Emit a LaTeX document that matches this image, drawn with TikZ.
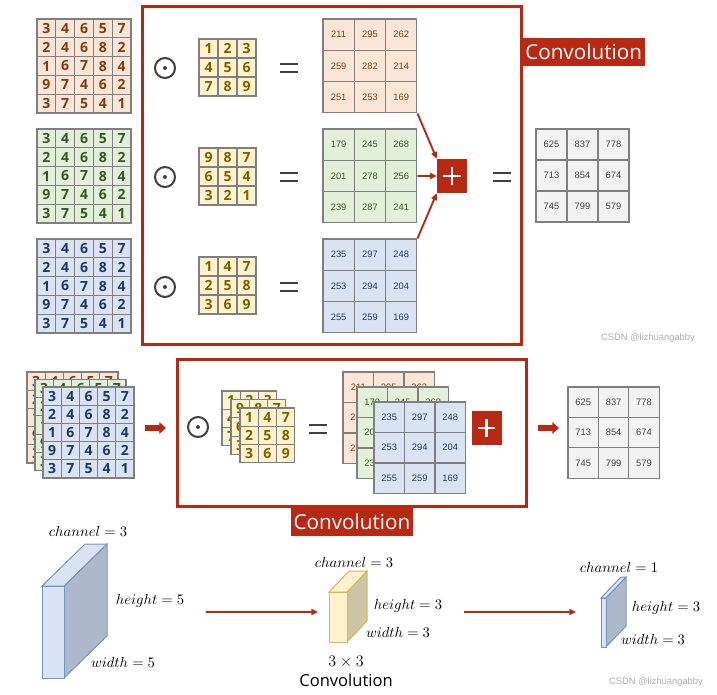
\documentclass[tikz,border=0pt]{standalone}
\usepackage{fontspec}
\newfontfamily\digitfont{Open Sans}
\newfontfamily\numfont{Liberation Sans}
\usepackage{tikz}
\usetikzlibrary{arrows.meta}
\usetikzlibrary{calc}
\usepackage{xcolor}
\definecolor{orfill}{HTML}{FBE5D6}
\definecolor{ortext}{HTML}{843C0C}
\definecolor{grfill}{HTML}{E2F0D9}
\definecolor{grtext}{HTML}{385723}
\definecolor{blfill}{HTML}{DAE3F3}
\definecolor{bltext}{HTML}{203864}
\definecolor{kfill}{HTML}{FFF2CC}
\definecolor{ktext}{HTML}{7F6000}
\definecolor{gyfill}{HTML}{F2F2F2}
\definecolor{gytext}{HTML}{404040}
\definecolor{gridgray}{HTML}{7F7F7F}
\definecolor{symgray}{HTML}{404040}
\definecolor{convred}{RGB}{184,40,18}
\definecolor{blueedge}{HTML}{7096C4}
\definecolor{blueside}{HTML}{ADB9CA}
\definecolor{goldedge}{HTML}{D6B656}
\definecolor{goldside}{HTML}{CFC5A5}
\tikzstyle{cell} = [draw=gridgray, line width=0.8pt, inner sep=0pt]
\tikzstyle{digit} = [cell, font=\digitfont\bfseries\fontsize{10.5}{12}\selectfont]
\tikzstyle{res} = [cell, font=\numfont\fontsize{7}{8}\selectfont]
\tikzstyle{orch} = [fill=orfill, text=ortext]
\tikzstyle{grch} = [fill=grfill, text=grtext]
\tikzstyle{blch} = [fill=blfill, text=bltext]
\tikzstyle{kern} = [fill=kfill, text=ktext]
\tikzstyle{sumch} = [fill=gyfill, text=gytext]
\tikzstyle{odotsym} = [circle, draw=symgray, line width=1.5pt, minimum size=15pt, inner sep=0pt,
	path picture={\fill[symgray] (path picture bounding box.center) circle (1.5pt);}]
\tikzstyle{eqsign} = [minimum width=13.5pt, minimum height=8.1pt, inner sep=0pt,
	path picture={\draw[symgray, line width=1.6pt]
		([yshift=-0.8pt]path picture bounding box.north west) -- ([yshift=-0.8pt]path picture bounding box.north east)
		([yshift=0.8pt]path picture bounding box.south west) -- ([yshift=0.8pt]path picture bounding box.south east);}]
\tikzstyle{plusbox} = [fill=convred, minimum width=22.5pt, minimum height=25.5pt, inner sep=0pt,
	path picture={\draw[white, line width=1.8pt]
		($(path picture bounding box.center)+(-6.4pt,0)$) -- ($(path picture bounding box.center)+(6.4pt,0)$)
		($(path picture bounding box.center)+(0,-6.4pt)$) -- ($(path picture bounding box.center)+(0,6.4pt)$);}]
\tikzstyle{convframe} = [draw=convred, line width=2.2pt]
\tikzstyle{convlabel} = [fill=convred, text=white, inner sep=0pt, minimum width=92pt, minimum height=21pt,
	font=\digitfont\fontsize{15.5}{16}\selectfont]
\tikzstyle{arrow} = [convred, line width=1.4pt, -{Triangle[length=5pt,width=4.5pt]}]
\tikzstyle{fatarrow} = [convred, line width=3.8pt, -{Triangle[length=5pt,width=8.5pt]}]
\tikzstyle{dimlabel} = [inner sep=0pt, font=\fontsize{11}{12}\selectfont]
\tikzstyle{watermark} = [inner sep=0pt, text=black!32, font=\numfont\fontsize{7}{8}\selectfont]

% grid of numbered cells: name, left, top, cell size (px), style, rows
\newcommand{\numgrid}[6]{%
\foreach \rowvals [count=\rw] in {#6}{
	\foreach \val [count=\cl] in \rowvals{
		\node[#5, minimum size=#4*0.75pt] (#1-\rw-\cl) at ({#2+(\cl-0.5)*#4},{#3+(\rw-0.5)*#4}) {\val};
	}
}}

\begin{document}
\begin{tikzpicture}[x=0.75pt,y=-0.75pt]
\useasboundingbox (0,0) rectangle (717,694);

% top: one channel at a time
\numgrid{in1}{37}{19}{18.8}{digit,orch}{{3,4,6,5,7},{2,4,6,8,2},{1,6,7,8,4},{9,7,4,6,2},{3,7,5,4,1}}
\numgrid{in2}{37}{129}{18.8}{digit,grch}{{3,4,6,5,7},{2,4,6,8,2},{1,6,7,8,4},{9,7,4,6,2},{3,7,5,4,1}}
\numgrid{in3}{37}{239}{18.8}{digit,blch}{{3,4,6,5,7},{2,4,6,8,2},{1,6,7,8,4},{9,7,4,6,2},{3,7,5,4,1}}

\draw[convframe] (142.5,6.5) rectangle (521.5,344.5);
\node[convlabel, anchor=west] (conv1) at (522,51.5) {Convolution};

\node[odotsym] (dot1) at (165,68) {};
\node[odotsym] (dot2) at (165,177) {};
\node[odotsym] (dot3) at (165,287) {};

\numgrid{k1}{199}{39}{19}{digit,kern}{{1,2,3},{4,5,6},{7,8,9}}
\numgrid{k2}{199}{148}{19}{digit,kern}{{9,8,7},{6,5,4},{3,2,1}}
\numgrid{k3}{199}{257}{19}{digit,kern}{{1,4,7},{2,5,8},{3,6,9}}

\node[eqsign] (eq1) at (289,68) {};
\node[eqsign] (eq2) at (289,177) {};
\node[eqsign] (eq3) at (289,287) {};

\numgrid{r1}{323}{19}{31.3}{res,orch}{{211,295,262},{259,282,214},{251,253,169}}
\numgrid{r2}{323}{129}{31.3}{res,grch}{{179,245,268},{201,278,256},{239,287,241}}
\numgrid{r3}{323}{239}{31.3}{res,blch}{{235,297,248},{253,294,204},{255,259,169}}

\node[plusbox] (plus1) at (452,176) {};
\draw[arrow] (r1-3-3.south east) -- (plus1.north west);
\draw[arrow] (r2-2-3.east) -- (plus1.west);
\draw[arrow] (r3-1-3.north east) -- (plus1.south west);

\node[eqsign] (eq4) at (502,177) {};
\numgrid{out1}{536}{129}{31}{res,sumch}{{625,837,778},{713,854,674},{745,799,579}}

\node[watermark] (mark1) at (648,338) {CSDN @lizhuangabby};

% middle: all channels at once
\numgrid{mi1}{27}{372}{18.2}{digit,orch}{{3,4,6,5,7},{2,4,6,8,2},{1,6,7,8,4},{9,7,4,6,2},{3,7,5,4,1}}
\numgrid{mi2}{35}{379.5}{18.2}{digit,grch}{{3,4,6,5,7},{2,4,6,8,2},{1,6,7,8,4},{9,7,4,6,2},{3,7,5,4,1}}
\numgrid{mi3}{43}{387}{18.2}{digit,blch}{{3,4,6,5,7},{2,4,6,8,2},{1,6,7,8,4},{9,7,4,6,2},{3,7,5,4,1}}

\coordinate (fa1) at (145,428);
\coordinate (fa2) at (166,428);
\draw[fatarrow] (fa1) -- (fa2);

\draw[convframe] (177.5,359.5) rectangle (526.5,506.5);
\node[convlabel] (conv2) at (352,521.5) {Convolution};

\node[odotsym] (dot4) at (198,427) {};
\numgrid{mk1}{222}{391}{18.3}{digit,kern}{{1,2,3},{4,5,6},{7,8,9}}
\numgrid{mk2}{231}{399.5}{18.3}{digit,kern}{{9,8,7},{6,5,4},{3,2,1}}
\numgrid{mk3}{240}{408}{18.3}{digit,kern}{{1,4,7},{2,5,8},{3,6,9}}

\node[eqsign] (eq5) at (318,429) {};
\numgrid{mr1}{343}{372}{30.5}{res,orch}{{211,295,262},{259,282,214},{251,253,169}}
\numgrid{mr2}{357}{387}{30.5}{res,grch}{{179,245,268},{201,278,256},{239,287,241}}
\numgrid{mr3}{374}{402}{30.5}{res,blch}{{235,297,248},{253,294,204},{255,259,169}}
\node[plusbox] (plus2) at (486.5,428) {};

\coordinate (fa3) at (538,428);
\coordinate (fa4) at (559,428);
\draw[fatarrow] (fa3) -- (fa4);
\numgrid{out2}{568}{387}{30.4}{res,sumch}{{625,837,778},{713,854,674},{745,799,579}}

% bottom: shapes of the tensors
\filldraw[blueedge, fill=blueside, line width=0.75pt] (64,586) -- (107,544) -- (107,636) -- (64,678) -- cycle;
\filldraw[blueedge, fill=blfill, line width=0.75pt] (42,586) -- (85,544) -- (107,544) -- (64,586) -- cycle;
\filldraw[blueedge, fill=blfill, line width=0.75pt] (42,586) rectangle (64,678);
\node[dimlabel] (ch1) at (88,531) {$channel = 3$};
\node[dimlabel] (ht1) at (150,601) {$height = 5$};
\node[dimlabel] (wd1) at (123,662) {$width = 5$};

\coordinate (ba1) at (206,612);
\coordinate (ba2) at (318,612);
\draw[arrow] (ba1) -- (ba2);

\filldraw[goldedge, fill=goldside, line width=0.75pt] (347,592) -- (367,571) -- (367,621) -- (347,642) -- cycle;
\filldraw[goldedge, fill=kfill, line width=0.75pt] (329,592) -- (349,571) -- (367,571) -- (347,592) -- cycle;
\filldraw[goldedge, fill=kfill, line width=0.75pt] (329,592) rectangle (347,642);
\node[dimlabel] (ch2) at (354,562) {$channel = 3$};
\node[dimlabel] (ht2) at (408,606) {$height = 3$};
\node[dimlabel] (wd2) at (398,632) {$width = 3$};
\node[dimlabel, font=\fontsize{12}{13}\selectfont] (size2) at (346,662) {$3\times 3$};
\node[inner sep=0pt, font=\digitfont\fontsize{12.4}{14}\selectfont] (name2) at (346,680) {Convolution};

\coordinate (ba3) at (464,612);
\coordinate (ba4) at (576,612);
\draw[arrow] (ba3) -- (ba4);

\filldraw[blueedge, fill=blueside, line width=0.75pt] (606,598) -- (626,577) -- (626,626) -- (606,647) -- cycle;
\filldraw[blueedge, fill=blfill, line width=0.75pt] (601,598) -- (621,577) -- (626,577) -- (606,598) -- cycle;
\filldraw[blueedge, fill=blfill, line width=0.75pt] (601,598) rectangle (606,647);
\node[dimlabel] (ch3) at (619,567) {$channel = 1$};
\node[dimlabel] (ht3) at (666,608) {$height = 3$};
\node[dimlabel] (wd3) at (653,639) {$width = 3$};

\node[watermark] (mark2) at (656,682) {CSDN @lizhuangabby};
\end{tikzpicture}
\end{document}
